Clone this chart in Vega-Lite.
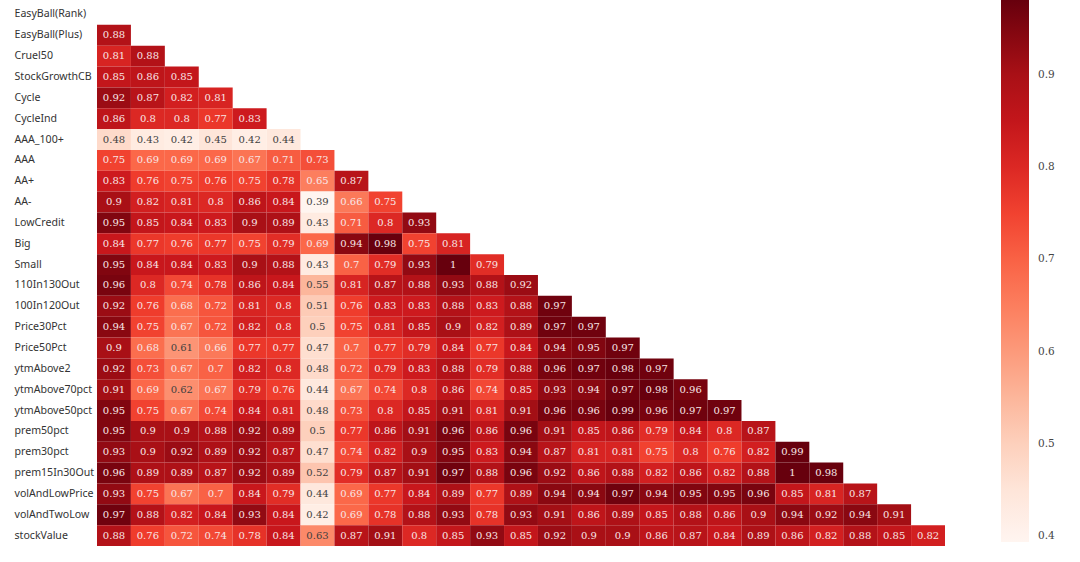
{
"$schema": "https://vega.github.io/schema/vega-lite/v6.json",
"width": 848, "height": 542,
"autosize": "none",
"padding": {"left": 97, "top": 4, "right": 135, "bottom": 16},
"background": "white",
"config": {"view": {"stroke": null}},
"data": {"values": [
{"row":"EasyBall(Plus)","col":"EasyBall(Rank)","v":0.88},
{"row":"Cruel50","col":"EasyBall(Rank)","v":0.81},{"row":"Cruel50","col":"EasyBall(Plus)","v":0.88},
{"row":"StockGrowthCB","col":"EasyBall(Rank)","v":0.85},{"row":"StockGrowthCB","col":"EasyBall(Plus)","v":0.86},{"row":"StockGrowthCB","col":"Cruel50","v":0.85},
{"row":"Cycle","col":"EasyBall(Rank)","v":0.92},{"row":"Cycle","col":"EasyBall(Plus)","v":0.87},{"row":"Cycle","col":"Cruel50","v":0.82},{"row":"Cycle","col":"StockGrowthCB","v":0.81},
{"row":"CycleInd","col":"EasyBall(Rank)","v":0.86},{"row":"CycleInd","col":"EasyBall(Plus)","v":0.8},{"row":"CycleInd","col":"Cruel50","v":0.8},{"row":"CycleInd","col":"StockGrowthCB","v":0.77},{"row":"CycleInd","col":"Cycle","v":0.83},
{"row":"AAA_100+","col":"EasyBall(Rank)","v":0.48},{"row":"AAA_100+","col":"EasyBall(Plus)","v":0.43},{"row":"AAA_100+","col":"Cruel50","v":0.42},{"row":"AAA_100+","col":"StockGrowthCB","v":0.45},{"row":"AAA_100+","col":"Cycle","v":0.42},{"row":"AAA_100+","col":"CycleInd","v":0.44},
{"row":"AAA","col":"EasyBall(Rank)","v":0.75},{"row":"AAA","col":"EasyBall(Plus)","v":0.69},{"row":"AAA","col":"Cruel50","v":0.69},{"row":"AAA","col":"StockGrowthCB","v":0.69},{"row":"AAA","col":"Cycle","v":0.67},{"row":"AAA","col":"CycleInd","v":0.71},{"row":"AAA","col":"AAA_100+","v":0.73},
{"row":"AA+","col":"EasyBall(Rank)","v":0.83},{"row":"AA+","col":"EasyBall(Plus)","v":0.76},{"row":"AA+","col":"Cruel50","v":0.75},{"row":"AA+","col":"StockGrowthCB","v":0.76},{"row":"AA+","col":"Cycle","v":0.75},{"row":"AA+","col":"CycleInd","v":0.78},{"row":"AA+","col":"AAA_100+","v":0.65},{"row":"AA+","col":"AAA","v":0.87},
{"row":"AA-","col":"EasyBall(Rank)","v":0.9},{"row":"AA-","col":"EasyBall(Plus)","v":0.82},{"row":"AA-","col":"Cruel50","v":0.81},{"row":"AA-","col":"StockGrowthCB","v":0.8},{"row":"AA-","col":"Cycle","v":0.86},{"row":"AA-","col":"CycleInd","v":0.84},{"row":"AA-","col":"AAA_100+","v":0.39},{"row":"AA-","col":"AAA","v":0.66},{"row":"AA-","col":"AA+","v":0.75},
{"row":"LowCredit","col":"EasyBall(Rank)","v":0.95},{"row":"LowCredit","col":"EasyBall(Plus)","v":0.85},{"row":"LowCredit","col":"Cruel50","v":0.84},{"row":"LowCredit","col":"StockGrowthCB","v":0.83},{"row":"LowCredit","col":"Cycle","v":0.9},{"row":"LowCredit","col":"CycleInd","v":0.89},{"row":"LowCredit","col":"AAA_100+","v":0.43},{"row":"LowCredit","col":"AAA","v":0.71},{"row":"LowCredit","col":"AA+","v":0.8},{"row":"LowCredit","col":"AA-","v":0.93},
{"row":"Big","col":"EasyBall(Rank)","v":0.84},{"row":"Big","col":"EasyBall(Plus)","v":0.77},{"row":"Big","col":"Cruel50","v":0.76},{"row":"Big","col":"StockGrowthCB","v":0.77},{"row":"Big","col":"Cycle","v":0.75},{"row":"Big","col":"CycleInd","v":0.79},{"row":"Big","col":"AAA_100+","v":0.69},{"row":"Big","col":"AAA","v":0.94},{"row":"Big","col":"AA+","v":0.98},{"row":"Big","col":"AA-","v":0.75},{"row":"Big","col":"LowCredit","v":0.81},
{"row":"Small","col":"EasyBall(Rank)","v":0.95},{"row":"Small","col":"EasyBall(Plus)","v":0.84},{"row":"Small","col":"Cruel50","v":0.84},{"row":"Small","col":"StockGrowthCB","v":0.83},{"row":"Small","col":"Cycle","v":0.9},{"row":"Small","col":"CycleInd","v":0.88},{"row":"Small","col":"AAA_100+","v":0.43},{"row":"Small","col":"AAA","v":0.7},{"row":"Small","col":"AA+","v":0.79},{"row":"Small","col":"AA-","v":0.93},{"row":"Small","col":"LowCredit","v":1},{"row":"Small","col":"Big","v":0.79},
{"row":"110In130Out","col":"EasyBall(Rank)","v":0.96},{"row":"110In130Out","col":"EasyBall(Plus)","v":0.8},{"row":"110In130Out","col":"Cruel50","v":0.74},{"row":"110In130Out","col":"StockGrowthCB","v":0.78},{"row":"110In130Out","col":"Cycle","v":0.86},{"row":"110In130Out","col":"CycleInd","v":0.84},{"row":"110In130Out","col":"AAA_100+","v":0.55},{"row":"110In130Out","col":"AAA","v":0.81},{"row":"110In130Out","col":"AA+","v":0.87},{"row":"110In130Out","col":"AA-","v":0.88},{"row":"110In130Out","col":"LowCredit","v":0.93},{"row":"110In130Out","col":"Big","v":0.88},{"row":"110In130Out","col":"Small","v":0.92},
{"row":"100In120Out","col":"EasyBall(Rank)","v":0.92},{"row":"100In120Out","col":"EasyBall(Plus)","v":0.76},{"row":"100In120Out","col":"Cruel50","v":0.68},{"row":"100In120Out","col":"StockGrowthCB","v":0.72},{"row":"100In120Out","col":"Cycle","v":0.81},{"row":"100In120Out","col":"CycleInd","v":0.8},{"row":"100In120Out","col":"AAA_100+","v":0.51},{"row":"100In120Out","col":"AAA","v":0.76},{"row":"100In120Out","col":"AA+","v":0.83},{"row":"100In120Out","col":"AA-","v":0.83},{"row":"100In120Out","col":"LowCredit","v":0.88},{"row":"100In120Out","col":"Big","v":0.83},{"row":"100In120Out","col":"Small","v":0.88},{"row":"100In120Out","col":"110In130Out","v":0.97},
{"row":"Price30Pct","col":"EasyBall(Rank)","v":0.94},{"row":"Price30Pct","col":"EasyBall(Plus)","v":0.75},{"row":"Price30Pct","col":"Cruel50","v":0.67},{"row":"Price30Pct","col":"StockGrowthCB","v":0.72},{"row":"Price30Pct","col":"Cycle","v":0.82},{"row":"Price30Pct","col":"CycleInd","v":0.8},{"row":"Price30Pct","col":"AAA_100+","v":0.5},{"row":"Price30Pct","col":"AAA","v":0.75},{"row":"Price30Pct","col":"AA+","v":0.81},{"row":"Price30Pct","col":"AA-","v":0.85},{"row":"Price30Pct","col":"LowCredit","v":0.9},{"row":"Price30Pct","col":"Big","v":0.82},{"row":"Price30Pct","col":"Small","v":0.89},{"row":"Price30Pct","col":"110In130Out","v":0.97},{"row":"Price30Pct","col":"100In120Out","v":0.97},
{"row":"Price50Pct","col":"EasyBall(Rank)","v":0.9},{"row":"Price50Pct","col":"EasyBall(Plus)","v":0.68},{"row":"Price50Pct","col":"Cruel50","v":0.61},{"row":"Price50Pct","col":"StockGrowthCB","v":0.66},{"row":"Price50Pct","col":"Cycle","v":0.77},{"row":"Price50Pct","col":"CycleInd","v":0.77},{"row":"Price50Pct","col":"AAA_100+","v":0.47},{"row":"Price50Pct","col":"AAA","v":0.7},{"row":"Price50Pct","col":"AA+","v":0.77},{"row":"Price50Pct","col":"AA-","v":0.79},{"row":"Price50Pct","col":"LowCredit","v":0.84},{"row":"Price50Pct","col":"Big","v":0.77},{"row":"Price50Pct","col":"Small","v":0.84},{"row":"Price50Pct","col":"110In130Out","v":0.94},{"row":"Price50Pct","col":"100In120Out","v":0.95},{"row":"Price50Pct","col":"Price30Pct","v":0.97},
{"row":"ytmAbove2","col":"EasyBall(Rank)","v":0.92},{"row":"ytmAbove2","col":"EasyBall(Plus)","v":0.73},{"row":"ytmAbove2","col":"Cruel50","v":0.67},{"row":"ytmAbove2","col":"StockGrowthCB","v":0.7},{"row":"ytmAbove2","col":"Cycle","v":0.82},{"row":"ytmAbove2","col":"CycleInd","v":0.8},{"row":"ytmAbove2","col":"AAA_100+","v":0.48},{"row":"ytmAbove2","col":"AAA","v":0.72},{"row":"ytmAbove2","col":"AA+","v":0.79},{"row":"ytmAbove2","col":"AA-","v":0.83},{"row":"ytmAbove2","col":"LowCredit","v":0.88},{"row":"ytmAbove2","col":"Big","v":0.79},{"row":"ytmAbove2","col":"Small","v":0.88},{"row":"ytmAbove2","col":"110In130Out","v":0.96},{"row":"ytmAbove2","col":"100In120Out","v":0.97},{"row":"ytmAbove2","col":"Price30Pct","v":0.98},{"row":"ytmAbove2","col":"Price50Pct","v":0.97},
{"row":"ytmAbove70pct","col":"EasyBall(Rank)","v":0.91},{"row":"ytmAbove70pct","col":"EasyBall(Plus)","v":0.69},{"row":"ytmAbove70pct","col":"Cruel50","v":0.62},{"row":"ytmAbove70pct","col":"StockGrowthCB","v":0.67},{"row":"ytmAbove70pct","col":"Cycle","v":0.79},{"row":"ytmAbove70pct","col":"CycleInd","v":0.76},{"row":"ytmAbove70pct","col":"AAA_100+","v":0.44},{"row":"ytmAbove70pct","col":"AAA","v":0.67},{"row":"ytmAbove70pct","col":"AA+","v":0.74},{"row":"ytmAbove70pct","col":"AA-","v":0.8},{"row":"ytmAbove70pct","col":"LowCredit","v":0.86},{"row":"ytmAbove70pct","col":"Big","v":0.74},{"row":"ytmAbove70pct","col":"Small","v":0.85},{"row":"ytmAbove70pct","col":"110In130Out","v":0.93},{"row":"ytmAbove70pct","col":"100In120Out","v":0.94},{"row":"ytmAbove70pct","col":"Price30Pct","v":0.97},{"row":"ytmAbove70pct","col":"Price50Pct","v":0.98},{"row":"ytmAbove70pct","col":"ytmAbove2","v":0.96},
{"row":"ytmAbove50pct","col":"EasyBall(Rank)","v":0.95},{"row":"ytmAbove50pct","col":"EasyBall(Plus)","v":0.75},{"row":"ytmAbove50pct","col":"Cruel50","v":0.67},{"row":"ytmAbove50pct","col":"StockGrowthCB","v":0.74},{"row":"ytmAbove50pct","col":"Cycle","v":0.84},{"row":"ytmAbove50pct","col":"CycleInd","v":0.81},{"row":"ytmAbove50pct","col":"AAA_100+","v":0.48},{"row":"ytmAbove50pct","col":"AAA","v":0.73},{"row":"ytmAbove50pct","col":"AA+","v":0.8},{"row":"ytmAbove50pct","col":"AA-","v":0.85},{"row":"ytmAbove50pct","col":"LowCredit","v":0.91},{"row":"ytmAbove50pct","col":"Big","v":0.81},{"row":"ytmAbove50pct","col":"Small","v":0.91},{"row":"ytmAbove50pct","col":"110In130Out","v":0.96},{"row":"ytmAbove50pct","col":"100In120Out","v":0.96},{"row":"ytmAbove50pct","col":"Price30Pct","v":0.99},{"row":"ytmAbove50pct","col":"Price50Pct","v":0.96},{"row":"ytmAbove50pct","col":"ytmAbove2","v":0.97},{"row":"ytmAbove50pct","col":"ytmAbove70pct","v":0.97},
{"row":"prem50pct","col":"EasyBall(Rank)","v":0.95},{"row":"prem50pct","col":"EasyBall(Plus)","v":0.9},{"row":"prem50pct","col":"Cruel50","v":0.9},{"row":"prem50pct","col":"StockGrowthCB","v":0.88},{"row":"prem50pct","col":"Cycle","v":0.92},{"row":"prem50pct","col":"CycleInd","v":0.89},{"row":"prem50pct","col":"AAA_100+","v":0.5},{"row":"prem50pct","col":"AAA","v":0.77},{"row":"prem50pct","col":"AA+","v":0.86},{"row":"prem50pct","col":"AA-","v":0.91},{"row":"prem50pct","col":"LowCredit","v":0.96},{"row":"prem50pct","col":"Big","v":0.86},{"row":"prem50pct","col":"Small","v":0.96},{"row":"prem50pct","col":"110In130Out","v":0.91},{"row":"prem50pct","col":"100In120Out","v":0.85},{"row":"prem50pct","col":"Price30Pct","v":0.86},{"row":"prem50pct","col":"Price50Pct","v":0.79},{"row":"prem50pct","col":"ytmAbove2","v":0.84},{"row":"prem50pct","col":"ytmAbove70pct","v":0.8},{"row":"prem50pct","col":"ytmAbove50pct","v":0.87},
{"row":"prem30pct","col":"EasyBall(Rank)","v":0.93},{"row":"prem30pct","col":"EasyBall(Plus)","v":0.9},{"row":"prem30pct","col":"Cruel50","v":0.92},{"row":"prem30pct","col":"StockGrowthCB","v":0.89},{"row":"prem30pct","col":"Cycle","v":0.92},{"row":"prem30pct","col":"CycleInd","v":0.87},{"row":"prem30pct","col":"AAA_100+","v":0.47},{"row":"prem30pct","col":"AAA","v":0.74},{"row":"prem30pct","col":"AA+","v":0.82},{"row":"prem30pct","col":"AA-","v":0.9},{"row":"prem30pct","col":"LowCredit","v":0.95},{"row":"prem30pct","col":"Big","v":0.83},{"row":"prem30pct","col":"Small","v":0.94},{"row":"prem30pct","col":"110In130Out","v":0.87},{"row":"prem30pct","col":"100In120Out","v":0.81},{"row":"prem30pct","col":"Price30Pct","v":0.81},{"row":"prem30pct","col":"Price50Pct","v":0.75},{"row":"prem30pct","col":"ytmAbove2","v":0.8},{"row":"prem30pct","col":"ytmAbove70pct","v":0.76},{"row":"prem30pct","col":"ytmAbove50pct","v":0.82},{"row":"prem30pct","col":"prem50pct","v":0.99},
{"row":"prem15In30Out","col":"EasyBall(Rank)","v":0.96},{"row":"prem15In30Out","col":"EasyBall(Plus)","v":0.89},{"row":"prem15In30Out","col":"Cruel50","v":0.89},{"row":"prem15In30Out","col":"StockGrowthCB","v":0.87},{"row":"prem15In30Out","col":"Cycle","v":0.92},{"row":"prem15In30Out","col":"CycleInd","v":0.89},{"row":"prem15In30Out","col":"AAA_100+","v":0.52},{"row":"prem15In30Out","col":"AAA","v":0.79},{"row":"prem15In30Out","col":"AA+","v":0.87},{"row":"prem15In30Out","col":"AA-","v":0.91},{"row":"prem15In30Out","col":"LowCredit","v":0.97},{"row":"prem15In30Out","col":"Big","v":0.88},{"row":"prem15In30Out","col":"Small","v":0.96},{"row":"prem15In30Out","col":"110In130Out","v":0.92},{"row":"prem15In30Out","col":"100In120Out","v":0.86},{"row":"prem15In30Out","col":"Price30Pct","v":0.88},{"row":"prem15In30Out","col":"Price50Pct","v":0.82},{"row":"prem15In30Out","col":"ytmAbove2","v":0.86},{"row":"prem15In30Out","col":"ytmAbove70pct","v":0.82},{"row":"prem15In30Out","col":"ytmAbove50pct","v":0.88},{"row":"prem15In30Out","col":"prem50pct","v":1},{"row":"prem15In30Out","col":"prem30pct","v":0.98},
{"row":"volAndLowPrice","col":"EasyBall(Rank)","v":0.93},{"row":"volAndLowPrice","col":"EasyBall(Plus)","v":0.75},{"row":"volAndLowPrice","col":"Cruel50","v":0.67},{"row":"volAndLowPrice","col":"StockGrowthCB","v":0.7},{"row":"volAndLowPrice","col":"Cycle","v":0.84},{"row":"volAndLowPrice","col":"CycleInd","v":0.79},{"row":"volAndLowPrice","col":"AAA_100+","v":0.44},{"row":"volAndLowPrice","col":"AAA","v":0.69},{"row":"volAndLowPrice","col":"AA+","v":0.77},{"row":"volAndLowPrice","col":"AA-","v":0.84},{"row":"volAndLowPrice","col":"LowCredit","v":0.89},{"row":"volAndLowPrice","col":"Big","v":0.77},{"row":"volAndLowPrice","col":"Small","v":0.89},{"row":"volAndLowPrice","col":"110In130Out","v":0.94},{"row":"volAndLowPrice","col":"100In120Out","v":0.94},{"row":"volAndLowPrice","col":"Price30Pct","v":0.97},{"row":"volAndLowPrice","col":"Price50Pct","v":0.94},{"row":"volAndLowPrice","col":"ytmAbove2","v":0.95},{"row":"volAndLowPrice","col":"ytmAbove70pct","v":0.95},{"row":"volAndLowPrice","col":"ytmAbove50pct","v":0.96},{"row":"volAndLowPrice","col":"prem50pct","v":0.85},{"row":"volAndLowPrice","col":"prem30pct","v":0.81},{"row":"volAndLowPrice","col":"prem15In30Out","v":0.87},
{"row":"volAndTwoLow","col":"EasyBall(Rank)","v":0.97},{"row":"volAndTwoLow","col":"EasyBall(Plus)","v":0.88},{"row":"volAndTwoLow","col":"Cruel50","v":0.82},{"row":"volAndTwoLow","col":"StockGrowthCB","v":0.84},{"row":"volAndTwoLow","col":"Cycle","v":0.93},{"row":"volAndTwoLow","col":"CycleInd","v":0.84},{"row":"volAndTwoLow","col":"AAA_100+","v":0.42},{"row":"volAndTwoLow","col":"AAA","v":0.69},{"row":"volAndTwoLow","col":"AA+","v":0.78},{"row":"volAndTwoLow","col":"AA-","v":0.88},{"row":"volAndTwoLow","col":"LowCredit","v":0.93},{"row":"volAndTwoLow","col":"Big","v":0.78},{"row":"volAndTwoLow","col":"Small","v":0.93},{"row":"volAndTwoLow","col":"110In130Out","v":0.91},{"row":"volAndTwoLow","col":"100In120Out","v":0.86},{"row":"volAndTwoLow","col":"Price30Pct","v":0.89},{"row":"volAndTwoLow","col":"Price50Pct","v":0.85},{"row":"volAndTwoLow","col":"ytmAbove2","v":0.88},{"row":"volAndTwoLow","col":"ytmAbove70pct","v":0.86},{"row":"volAndTwoLow","col":"ytmAbove50pct","v":0.9},{"row":"volAndTwoLow","col":"prem50pct","v":0.94},{"row":"volAndTwoLow","col":"prem30pct","v":0.92},{"row":"volAndTwoLow","col":"prem15In30Out","v":0.94},{"row":"volAndTwoLow","col":"volAndLowPrice","v":0.91},
{"row":"stockValue","col":"EasyBall(Rank)","v":0.88},{"row":"stockValue","col":"EasyBall(Plus)","v":0.76},{"row":"stockValue","col":"Cruel50","v":0.72},{"row":"stockValue","col":"StockGrowthCB","v":0.74},{"row":"stockValue","col":"Cycle","v":0.78},{"row":"stockValue","col":"CycleInd","v":0.84},{"row":"stockValue","col":"AAA_100+","v":0.63},{"row":"stockValue","col":"AAA","v":0.87},{"row":"stockValue","col":"AA+","v":0.91},{"row":"stockValue","col":"AA-","v":0.8},{"row":"stockValue","col":"LowCredit","v":0.85},{"row":"stockValue","col":"Big","v":0.93},{"row":"stockValue","col":"Small","v":0.85},{"row":"stockValue","col":"110In130Out","v":0.92},{"row":"stockValue","col":"100In120Out","v":0.9},{"row":"stockValue","col":"Price30Pct","v":0.9},{"row":"stockValue","col":"Price50Pct","v":0.86},{"row":"stockValue","col":"ytmAbove2","v":0.87},{"row":"stockValue","col":"ytmAbove70pct","v":0.84},{"row":"stockValue","col":"ytmAbove50pct","v":0.89},{"row":"stockValue","col":"prem50pct","v":0.86},{"row":"stockValue","col":"prem30pct","v":0.82},{"row":"stockValue","col":"prem15In30Out","v":0.88},{"row":"stockValue","col":"volAndLowPrice","v":0.85},{"row":"stockValue","col":"volAndTwoLow","v":0.82}
]},
"encoding": {
  "x": {"field": "col", "type": "nominal",
        "scale": {"domain": ["EasyBall(Rank)","EasyBall(Plus)","Cruel50","StockGrowthCB","Cycle","CycleInd","AAA_100+","AAA","AA+","AA-","LowCredit","Big","Small","110In130Out","100In120Out","Price30Pct","Price50Pct","ytmAbove2","ytmAbove70pct","ytmAbove50pct","prem50pct","prem30pct","prem15In30Out","volAndLowPrice","volAndTwoLow"], "paddingInner": 0, "paddingOuter": 0},
        "axis": null},
  "y": {"field": "row", "type": "nominal",
        "scale": {"domain": ["EasyBall(Rank)","EasyBall(Plus)","Cruel50","StockGrowthCB","Cycle","CycleInd","AAA_100+","AAA","AA+","AA-","LowCredit","Big","Small","110In130Out","100In120Out","Price30Pct","Price50Pct","ytmAbove2","ytmAbove70pct","ytmAbove50pct","prem50pct","prem30pct","prem15In30Out","volAndLowPrice","volAndTwoLow","stockValue"], "paddingInner": 0, "paddingOuter": 0},
        "axis": {"title": null, "ticks": false, "domain": false, "labelAlign": "left", "labelPadding": 83, "labelFont": "Noto Sans", "labelFontSize": 10.6, "labelLimit": 200, "labelColor": "#333333"}}
},
"layer": [
  {"mark": {"type": "rect"},
   "encoding": {"color": {"field": "v", "type": "quantitative",
      "scale": {"domain": [0.394, 0.981], "nice": false, "zero": false, "clamp": true, "interpolate": "rgb",
                "range": ["#fff5f0","#fee0d2","#fcbba1","#fc9272","#fb6a4a","#ef3b2c","#cb181d","#a50f15","#67000d"]},
      "legend": {"orient": "none", "legendX": 904, "legendY": -4, "direction": "vertical", "title": null,
                 "gradientLength": 542, "gradientThickness": 28, "gradientStrokeWidth": 0,
                 "values": [0.4, 0.5, 0.6, 0.7, 0.8, 0.9], "format": ".1f", "labelOverlap": false,
                 "labelFont": "DejaVu Serif", "labelFontSize": 10.5, "labelColor": "#444444", "labelOffset": 9}}}},
  {"mark": {"type": "text", "font": "DejaVu Serif", "fontSize": 10},
   "encoding": {"text": {"field": "v", "type": "quantitative", "format": ".2~f"},
      "color": {"condition": {"test": "datum.v < 0.64", "value": "#404040"}, "value": "#f8e6e6"}}}
]
}
